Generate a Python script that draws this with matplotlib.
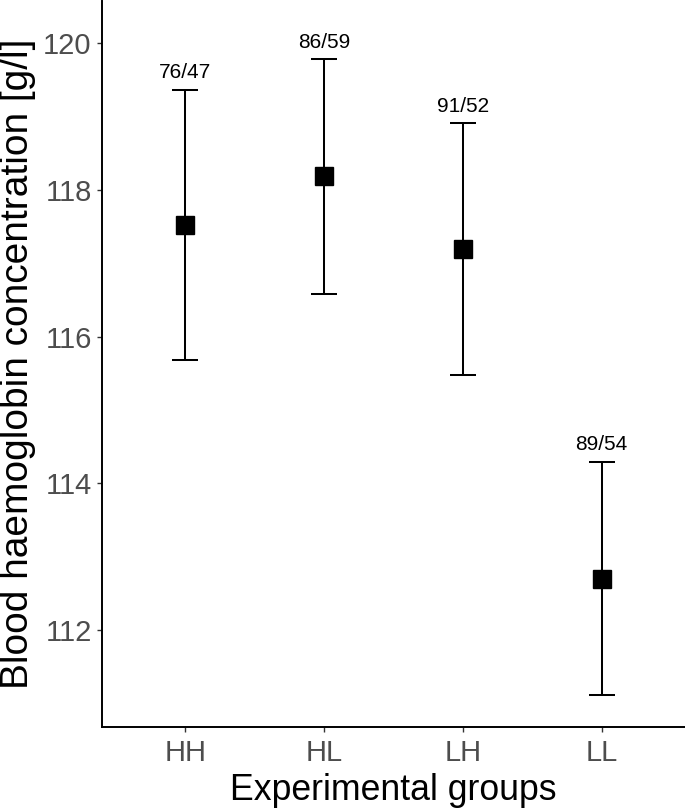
import matplotlib
matplotlib.use("Agg")
import matplotlib.pyplot as plt

plt.rcParams['font.family'] = ['Liberation Sans', 'DejaVu Sans']

groups = ["HH", "HL", "LH", "LL"]
means = [117.52, 118.19, 117.20, 112.70]
lower = [115.68, 116.585, 115.48, 111.12]
upper = [119.36, 119.78, 118.91, 114.29]
counts = ["76/47", "86/59", "91/52", "89/54"]
yticks = [112, 114, 116, 118, 120]

fig = plt.figure(figsize=(6.85, 8.09), dpi=100)
ax = fig.add_axes([102/685, 1 - 727/809, 1 - 102/685, 727/809 - 0.001])

x = list(range(1, len(groups) + 1))
yerr = [[m - l for m, l in zip(means, lower)], [u - m for m, u in zip(means, upper)]]
ax.errorbar(x, means, yerr=yerr, fmt='none', ecolor='black', elinewidth=1.45,
            capsize=9.7, capthick=1.45, zorder=2)
ax.plot(x, means, linestyle='none', marker='s', markersize=13.3,
        color='black', zorder=3)

for xi, u, c in zip(x, upper, counts):
    ax.annotate(c, xy=(xi, u), xytext=(0, 8.5), textcoords='offset points',
                ha='center', va='baseline', fontsize=15, color='black')

ax.set_xlim(0.4, 4.6)
ax.set_ylim(110.68, 120.58)
ax.set_xticks(x)
ax.set_xticklabels(groups)
ax.set_yticks(yticks)
ax.set_yticklabels([str(t) for t in yticks])

for s in ['top', 'right']:
    ax.spines[s].set_visible(False)
for s in ['left', 'bottom']:
    ax.spines[s].set_linewidth(1.4)
    ax.spines[s].set_color('black')

ax.tick_params(axis='both', direction='out', length=3.8, width=1.0,
               color='#333333', labelcolor='#4D4D4D', labelsize=21)
ax.tick_params(axis='y', pad=3.6)
ax.tick_params(axis='x', pad=4.5)

ax.set_xlabel("Experimental groups", fontsize=25.7, color='black', labelpad=4.5)
ax.set_ylabel("Blood haemoglobin concentration [g/l]", fontsize=28,
              color='black', labelpad=5)

fig.savefig("out.png", dpi=100)
